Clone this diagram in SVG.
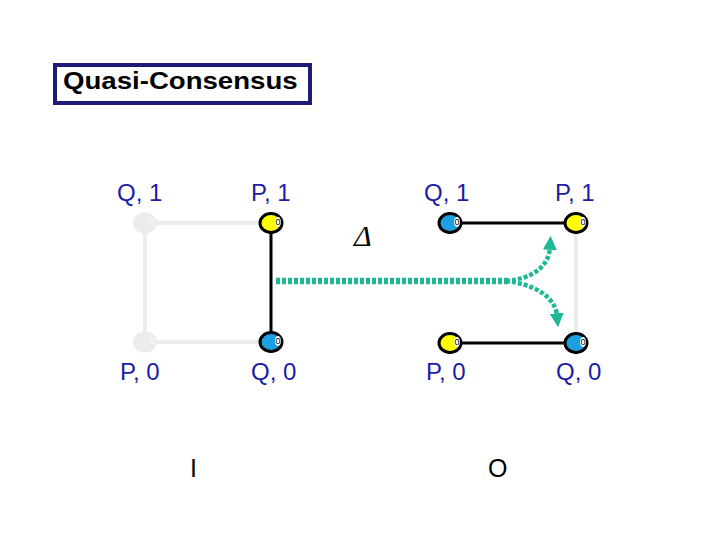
<svg xmlns="http://www.w3.org/2000/svg" width="720" height="540" viewBox="0 0 720 540">
<defs>
<style>
.lbl{font-family:"Liberation Sans",Arial,sans-serif;font-size:24px;fill:#1c1ca6}
.io{font-family:"Liberation Sans",Arial,sans-serif;font-size:25px;fill:#000}
.y{fill:#ffff00;stroke:#000;stroke-width:3}
.b{fill:#1ba1e2;stroke:#000;stroke-width:3}
.g{fill:#ececec}
.hl{fill:#fff}
.z{font-family:"Liberation Sans",Arial,sans-serif;font-size:9px;fill:#000;text-anchor:middle}
.zg{font-family:"Liberation Sans",Arial,sans-serif;font-size:9px;fill:#fafafa;text-anchor:middle}
.ge{stroke:#ececec;stroke-width:4;fill:none}
.be{stroke:#000;stroke-width:3;fill:none}
.tl{stroke:#1fb894;fill:none;stroke-dasharray:4 2}
</style>
<marker id="ah" viewBox="0 0 10 10" refX="2" refY="5" markerWidth="14" markerHeight="14" orient="auto" markerUnits="userSpaceOnUse">
<path d="M0,0 L10,5 L0,10 z" fill="#1fb894"/>
</marker>
</defs>
<rect width="720" height="540" fill="#fff"/>
<g id="title">
<rect x="55" y="65" width="255" height="38" fill="#fff" stroke="#1c1c78" stroke-width="4"/>
<text transform="translate(63,89) scale(1.15,1)" x="0" y="0" font-family="'Liberation Sans',Arial,sans-serif" font-size="24" font-weight="bold">Quasi-Consensus</text>
</g>
<g id="connectors">
<line class="ge" x1="145" y1="223" x2="271" y2="223"/>
<line class="ge" x1="145" y1="223" x2="145" y2="342"/>
<line class="ge" x1="145" y1="342" x2="271" y2="342"/>
<line class="be" x1="271" y1="223" x2="271" y2="342"/>
<line class="ge" x1="576" y1="223" x2="576" y2="343"/>
<line class="be" x1="450" y1="223" x2="576" y2="223"/>
<line class="be" x1="450" y1="343" x2="576" y2="343"/>
<path class="tl" stroke-width="6.5" d="M276,281 L508,281"/>
<path class="tl" stroke-width="4.5" d="M506,281 C530,279 549,268 550,247" marker-end="url(#ah)"/>
<path class="tl" stroke-width="4.5" d="M506,281 C532,284 555,295 557,316" marker-end="url(#ah)"/>
</g>
<g id="n-left-tl"><ellipse class="g" cx="145" cy="223" rx="12" ry="10.5"/><ellipse class="g" cx="152" cy="222" rx="3" ry="5"/><text class="zg" x="152" y="225">0</text></g>
<g id="n-left-tr"><ellipse class="y" cx="271" cy="223" rx="11" ry="9.5"/><ellipse class="hl" cx="278" cy="222" rx="3" ry="5"/><text class="z" x="278" y="225">0</text></g>
<g id="n-left-bl"><ellipse class="g" cx="145" cy="342" rx="12" ry="10.5"/><ellipse class="g" cx="152" cy="341" rx="3" ry="5"/><text class="zg" x="152" y="344">0</text></g>
<g id="n-left-br"><ellipse class="b" cx="271" cy="342" rx="11" ry="9.5"/><ellipse class="hl" cx="278" cy="341" rx="3" ry="5"/><text class="z" x="278" y="344">0</text></g>
<g id="n-right-tl"><ellipse class="b" cx="450" cy="223" rx="11" ry="9.5"/><ellipse class="hl" cx="457" cy="222" rx="3" ry="5"/><text class="z" x="457" y="225">0</text></g>
<g id="n-right-tr"><ellipse class="y" cx="576" cy="223" rx="11" ry="9.5"/><ellipse class="hl" cx="583" cy="222" rx="3" ry="5"/><text class="z" x="583" y="225">0</text></g>
<g id="n-right-bl"><ellipse class="y" cx="450" cy="343" rx="11" ry="9.5"/><ellipse class="hl" cx="457" cy="342" rx="3" ry="5"/><text class="z" x="457" y="345">0</text></g>
<g id="n-right-br"><ellipse class="b" cx="576" cy="343" rx="11" ry="9.5"/><ellipse class="hl" cx="583" cy="342" rx="3" ry="5"/><text class="z" x="583" y="345">0</text></g>
<g id="labels">
<text class="lbl" x="117" y="201">Q, 1</text>
<text class="lbl" x="251" y="201">P, 1</text>
<text class="lbl" x="424" y="201">Q, 1</text>
<text class="lbl" x="555" y="201">P, 1</text>
<text class="lbl" x="120" y="380">P, 0</text>
<text class="lbl" x="251" y="380">Q, 0</text>
<text class="lbl" x="426" y="380">P, 0</text>
<text class="lbl" x="556" y="380">Q, 0</text>
<text x="354" y="246" font-family="'Liberation Serif','Times New Roman',serif" font-size="30" font-style="italic">Δ</text>
<text class="io" x="190" y="477">I</text>
<text class="io" x="488" y="477">O</text>
</g>
</svg>
